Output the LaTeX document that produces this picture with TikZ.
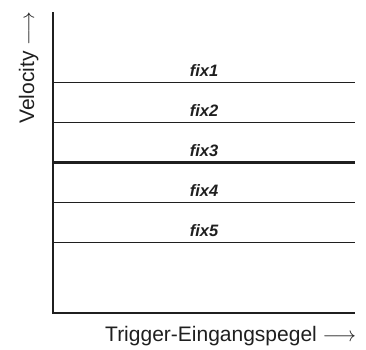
\documentclass[tikz,border=0pt]{standalone}
\usepackage{fontspec}
\setmainfont{Liberation Sans}
\begin{document}
\begin{tikzpicture}[x=1pt,y=-1pt,
  axisline/.style={line width=2.2pt,draw=black!88},
  fixline/.style={line width=1pt,draw=black!88},
  boldfix/.style={line width=3pt,draw=black!88},
  fixlabel/.style={font=\fontsize{16.5}{16.5}\selectfont\bfseries\itshape,anchor=base,inner sep=0pt,text=black!88},
  axlabel/.style={font=\fontsize{21}{21}\selectfont,inner sep=0pt,text=black!88}]
\useasboundingbox (0,0) rectangle (366,349);
\coordinate (top) at (53,12);
\coordinate (org) at (53,313);
\coordinate (xend) at (355,313);
\draw[axisline] (top) -- (org) -- (xend);
\foreach \n/\y/\s in {1/82/fixline,2/122/fixline,3/162/boldfix,4/202/fixline,5/242/fixline}{
  \coordinate (l\n) at (53,\y);
  \coordinate (r\n) at (355,\y);
  \draw[\s] (l\n) -- (r\n);
  \node[fixlabel] (f\n) at (204,\y-6) {fix\n};
}
\node[axlabel,anchor=base west] (xl) at (105,341) {Trigger-Eingangspegel $\longrightarrow$};
\node[axlabel,anchor=base west,rotate=90] (yl) at (34,124) {Velocity $\longrightarrow$};
\end{tikzpicture}
\end{document}
